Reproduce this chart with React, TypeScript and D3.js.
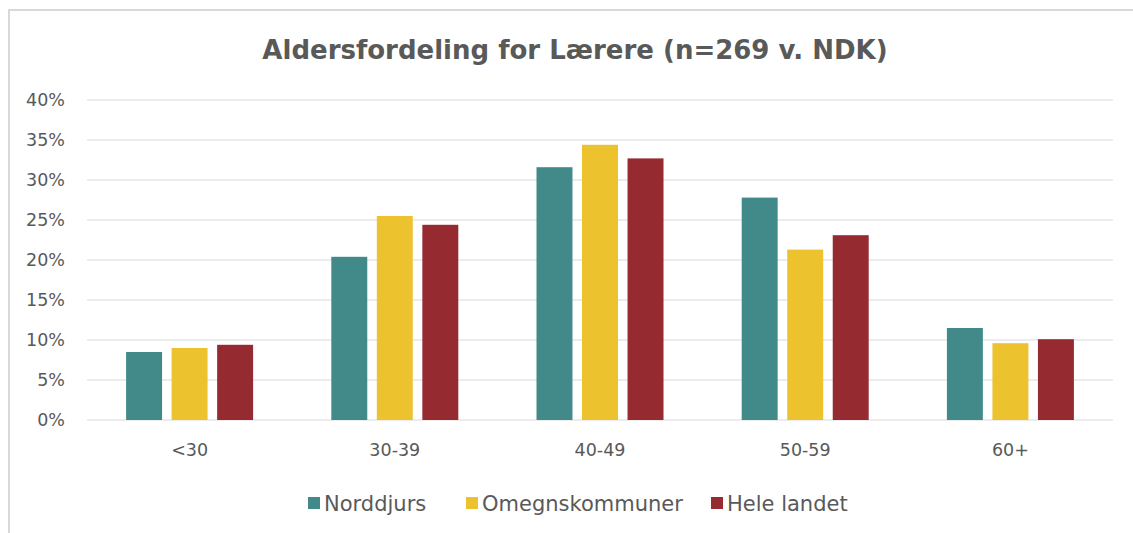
import { useEffect, useRef } from 'react'
import * as d3 from 'd3'

const categories = ['<30', '30-39', '40-49', '50-59', '60+']
const seriesNames = ['Norddjurs', 'Omegnskommuner', 'Hele landet']
const norddjurs = [8.5, 20.4, 31.6, 27.8, 11.5]
const omegn = [9.0, 25.5, 34.4, 21.3, 9.6]
const heleLandet = [9.4, 24.4, 32.7, 23.1, 10.1]
const yTicks = [0, 5, 10, 15, 20, 25, 30, 35, 40]
const colors = ['#428a8a', '#ecc22e', '#962a31']

const FONT = "'DejaVu Sans', Verdana, sans-serif"
const TEXT = '#595959'

export default function App() {
  const svgRef = useRef<SVGSVGElement>(null)

  useEffect(() => {
    if (!svgRef.current) return
    const width = 1133
    const height = 533
    const svg = d3.select(svgRef.current)
    svg.selectAll('*').remove()

    const values = [norddjurs, omegn, heleLandet]
    const margin = { left: 87, right: 20, top: 100, bottom: 113 }
    const groupWidth = 127

    // chart frame (cropped at right and bottom)
    svg
      .append('path')
      .attr('d', `M9,${height} V10 H${width}`)
      .attr('fill', 'none')
      .attr('stroke', '#d9d9d9')
      .attr('stroke-width', 2)

    const x = d3
      .scaleBand()
      .domain(categories)
      .range([margin.left, width - margin.right])

    const inner = d3
      .scaleBand()
      .domain(seriesNames)
      .range([0, groupWidth])
      .paddingInner(0.21)

    const y = d3
      .scaleLinear()
      .domain([0, 40])
      .range([height - margin.bottom, margin.top])

    // gridlines
    svg
      .append('g')
      .selectAll('line')
      .data(yTicks)
      .enter()
      .append('line')
      .attr('x1', margin.left)
      .attr('x2', width - margin.right)
      .attr('y1', d => y(d))
      .attr('y2', d => y(d))
      .attr('stroke', '#d9d9d9')
      .attr('stroke-width', 1)

    // y tick labels
    svg
      .append('g')
      .selectAll('text')
      .data(yTicks)
      .enter()
      .append('text')
      .attr('x', 65)
      .attr('y', d => y(d))
      .attr('dy', '0.36em')
      .attr('text-anchor', 'end')
      .attr('font-family', FONT)
      .attr('font-size', 17.5)
      .attr('fill', TEXT)
      .text(d => `${d}%`)

    // bars
    seriesNames.forEach((name, si) => {
      svg
        .append('g')
        .selectAll('rect')
        .data(categories)
        .enter()
        .append('rect')
        .attr('x', c => (x(c) as number) + x.bandwidth() / 2 - groupWidth / 2 + (inner(name) as number))
        .attr('y', (_, i) => y(values[si][i]))
        .attr('width', inner.bandwidth())
        .attr('height', (_, i) => y(0) - y(values[si][i]))
        .attr('fill', colors[si])
    })

    // category labels
    svg
      .append('g')
      .selectAll('text')
      .data(categories)
      .enter()
      .append('text')
      .attr('x', c => (x(c) as number) + x.bandwidth() / 2)
      .attr('y', 450)
      .attr('dy', '0.36em')
      .attr('text-anchor', 'middle')
      .attr('font-family', FONT)
      .attr('font-size', 17.5)
      .attr('fill', TEXT)
      .text(c => c)

    // title
    svg
      .append('text')
      .attr('x', 575)
      .attr('y', 50)
      .attr('dy', '0.36em')
      .attr('text-anchor', 'middle')
      .attr('font-family', FONT)
      .attr('font-weight', 'bold')
      .attr('font-size', 26)
      .attr('fill', TEXT)
      .text('Aldersfordeling for Lærere (n=269 v. NDK)')

    // legend
    const legendX = [308, 466, 711]
    const legend = svg
      .append('g')
      .selectAll('g')
      .data(seriesNames)
      .enter()
      .append('g')
      .attr('transform', (_, i) => `translate(${legendX[i]}, 503)`)
    legend
      .append('rect')
      .attr('x', 0)
      .attr('y', -6)
      .attr('width', 12)
      .attr('height', 12)
      .attr('fill', (_, i) => colors[i])
    legend
      .append('text')
      .attr('x', 16)
      .attr('y', 0)
      .attr('dy', '0.36em')
      .attr('font-family', FONT)
      .attr('font-size', 21)
      .attr('fill', TEXT)
      .text(d => d)
  }, [])

  return (
    <svg
      ref={svgRef}
      width={1133}
      height={533}
      style={{ position: 'absolute', left: 0, top: 0, background: '#fff' }}
    />
  )
}
